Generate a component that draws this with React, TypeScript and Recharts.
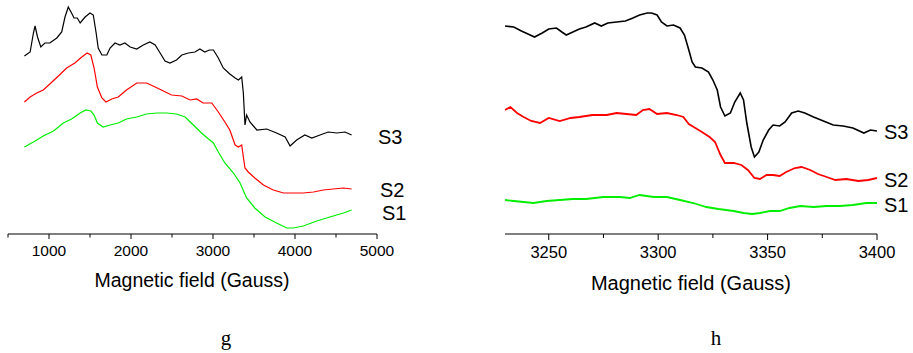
import React from "react";
import { LineChart, Line, XAxis, YAxis } from "recharts";

// EPR spectra, intensities in arbitrary units
// panel g: wide scan
const gS3: [number, number][] = [
  [700, 178], [770, 182], [810, 201], [830, 208], [860, 197], [900, 187], [950, 191],
  [1010, 191], [1095, 196], [1155, 202], [1195, 217], [1235, 227], [1275, 221],
  [1305, 216], [1345, 216], [1380, 211], [1440, 217], [1500, 221], [1540, 219],
  [1575, 201], [1600, 186], [1645, 179], [1705, 179], [1745, 186], [1805, 191],
  [1865, 189], [1925, 191], [1990, 187], [2070, 185], [2150, 189], [2230, 192],
  [2295, 189], [2355, 181], [2415, 173], [2475, 171], [2555, 174], [2620, 179],
  [2700, 181], [2780, 182], [2840, 185], [2900, 182], [2955, 184], [3005, 184],
  [3065, 176], [3125, 166], [3205, 160], [3270, 156], [3310, 154], [3350, 157],
  [3370, 141], [3390, 109], [3410, 119], [3450, 112], [3535, 104], [3655, 105],
  [3775, 101], [3880, 97], [3940, 88], [4020, 94], [4120, 99], [4205, 96],
  [4305, 99], [4405, 102], [4510, 101], [4610, 102], [4690, 99],
];

const gS2: [number, number][] = [
  [700, 132], [770, 137], [850, 141], [930, 144], [1010, 150], [1115, 158],
  [1215, 166], [1315, 171], [1400, 177], [1465, 181], [1510, 179], [1550, 166],
  [1590, 147], [1645, 136], [1695, 132], [1765, 135], [1845, 137], [1945, 144],
  [2070, 151], [2190, 151], [2295, 147], [2395, 143], [2495, 139], [2620, 138],
  [2720, 134], [2800, 135], [2880, 131], [2985, 131], [3065, 122], [3145, 112],
  [3205, 104], [3270, 89], [3310, 87], [3350, 89], [3370, 77], [3390, 66],
  [3430, 62], [3510, 56], [3615, 49], [3735, 44], [3860, 41], [3980, 41],
  [4100, 41], [4225, 42], [4345, 44], [4465, 45], [4590, 46], [4690, 45],
];

const gS1: [number, number][] = [
  [700, 87], [810, 92], [930, 98], [1055, 103], [1175, 111], [1275, 115],
  [1380, 121], [1450, 124], [1510, 123], [1550, 119], [1590, 111], [1660, 107],
  [1745, 109], [1845, 111], [1945, 115], [2070, 117], [2190, 120], [2315, 121],
  [2435, 121], [2555, 120], [2660, 117], [2760, 109], [2860, 101], [2945, 95],
  [3005, 91], [3065, 82], [3145, 71], [3250, 61], [3330, 51], [3410, 36],
  [3510, 26], [3635, 17], [3775, 11], [3900, 6], [3980, 6], [4100, 8],
  [4265, 13], [4425, 17], [4590, 21], [4690, 24],
];

// panel h: narrow scan around g = 2
const hS3: [number, number][] = [
  [3230, 208], [3234, 207], [3237.5, 203], [3240.5, 200], [3243.5, 197], [3247, 201],
  [3250, 205], [3253.5, 206], [3256, 202], [3258, 199], [3261, 202], [3264, 205],
  [3267, 207], [3271, 211], [3274, 208], [3277, 211], [3281, 212], [3285, 213],
  [3288.5, 216], [3291.5, 219], [3295, 221], [3297, 221], [3299.5, 219], [3301.5, 212],
  [3304, 208], [3307, 209], [3310, 206], [3312, 199], [3314, 184], [3315.5, 172],
  [3317, 167], [3320, 166], [3323, 162], [3325, 154], [3327, 144], [3328.5, 127],
  [3330.5, 118], [3333, 121], [3335, 132], [3337.5, 141], [3339, 134], [3340.5, 111],
  [3342.5, 87], [3344, 77], [3346, 82], [3348, 94], [3350.5, 104], [3352.5, 109],
  [3355.5, 108], [3358, 112], [3361, 121], [3364, 123], [3367, 121], [3371, 117],
  [3375.5, 113], [3380, 109], [3384.5, 108], [3389, 106], [3394, 101], [3397, 104],
  [3400, 103],
];

const hS2: [number, number][] = [
  [3230, 124], [3232.5, 127], [3235.5, 121], [3238.5, 117], [3242, 113], [3246, 111],
  [3250, 116], [3255, 113], [3260, 116], [3264, 117], [3270, 119], [3276.5, 119],
  [3281, 121], [3285.5, 120], [3290, 119], [3293, 124], [3296, 125], [3299.5, 120],
  [3304, 121], [3308.5, 119], [3311.5, 117], [3314, 110], [3317, 106], [3320, 102],
  [3323.5, 97], [3326, 92], [3328.5, 79], [3330.5, 71], [3334.5, 71], [3338, 69],
  [3341, 64], [3344, 56], [3346.5, 55], [3349.5, 59], [3352.5, 59], [3355.5, 58],
  [3358.5, 62], [3362.5, 66], [3365.5, 67], [3369.5, 64], [3373, 60], [3377, 57],
  [3381, 54], [3386, 55], [3391.5, 53], [3396, 54], [3400, 56],
];

const hS1: [number, number][] = [
  [3230, 34], [3234, 33], [3238.5, 32], [3243, 31], [3249, 33], [3255, 34],
  [3261, 35], [3267, 35], [3275, 37], [3282.5, 37], [3287, 36], [3291.5, 39],
  [3298, 37], [3304, 37], [3310, 34], [3316, 31], [3322, 27], [3327.5, 25],
  [3334.5, 23], [3339, 21], [3343, 20], [3346.5, 21], [3351, 23], [3355.5, 23],
  [3360, 26], [3365, 28], [3371, 27], [3377, 28], [3383, 28], [3389, 29],
  [3395, 31], [3400, 31],
];

const gTicks = [500, 1000, 1500, 2000, 2500, 3000, 3500, 4000, 4500, 5000];
const gMajor = [1000, 2000, 3000, 4000, 5000];
const hTicks = [3250, 3275, 3300, 3325, 3350, 3375, 3400];
const hMajor = [3250, 3300, 3350, 3400];

const FONT = "'Liberation Sans', Arial, sans-serif";

const toRows = (pts: [number, number][]) => pts.map(([x, y]) => ({ x, y }));

function makeTick(majors: number[], fontSize: number, labelDy: number, majorLen: number, minorLen: number) {
  return (props: any) => {
    const { x, y, payload } = props;
    const major = majors.includes(payload.value);
    return (
      <g>
        <line x1={x} x2={x} y1={y} y2={y + (major ? majorLen : minorLen)} stroke="#000" strokeWidth={1} />
        {major && (
          <text x={x} y={y + labelDy} textAnchor="middle" fontSize={fontSize} fill="#000" fontFamily={FONT}>
            {payload.value}
          </text>
        )}
      </g>
    );
  };
}

export default function App() {
  return (
    <div style={{ position: "absolute", left: 0, top: 0, width: 913, height: 353, background: "#fff" }}>
      <div style={{ position: "absolute", left: 0, top: 0 }}>
        <LineChart width={400} height={300} margin={{ top: 0, right: 23, bottom: 0, left: 8 }}>
          <XAxis
            type="number"
            dataKey="x"
            domain={[500, 5000]}
            ticks={gTicks}
            interval={0}
            allowDataOverflow
            height={66}
            tickSize={0}
            tickMargin={0}
            tickLine={false}
            axisLine={{ stroke: "#000" }}
            tick={makeTick(gMajor, 15.5, 21.5, 5, 3.5)}
          />
          <YAxis type="number" dataKey="y" domain={[0, 234]} hide allowDataOverflow />
          <Line data={toRows(gS3)} dataKey="y" type="linear" stroke="#000000" strokeWidth={1.2} dot={false} isAnimationActive={false} />
          <Line data={toRows(gS2)} dataKey="y" type="linear" stroke="#ff0000" strokeWidth={1.2} dot={false} isAnimationActive={false} />
          <Line data={toRows(gS1)} dataKey="y" type="linear" stroke="#00ee00" strokeWidth={1.2} dot={false} isAnimationActive={false} />
        </LineChart>
      </div>
      <div style={{ position: "absolute", left: 480, top: 0 }}>
        <LineChart width={433} height={300} margin={{ top: 0, right: 36, bottom: 0, left: 25 }}>
          <XAxis
            type="number"
            dataKey="x"
            domain={[3230, 3400]}
            ticks={hTicks}
            interval={0}
            allowDataOverflow
            height={66}
            tickSize={0}
            tickMargin={0}
            tickLine={false}
            axisLine={{ stroke: "#000" }}
            tick={makeTick(hMajor, 16.5, 24, 6, 4)}
          />
          <YAxis type="number" dataKey="y" domain={[0, 234]} hide allowDataOverflow />
          <Line data={toRows(hS3)} dataKey="y" type="linear" stroke="#000000" strokeWidth={1.6} dot={false} isAnimationActive={false} />
          <Line data={toRows(hS2)} dataKey="y" type="linear" stroke="#ff0000" strokeWidth={1.8} dot={false} isAnimationActive={false} />
          <Line data={toRows(hS1)} dataKey="y" type="linear" stroke="#00ee00" strokeWidth={1.8} dot={false} isAnimationActive={false} />
        </LineChart>
      </div>
      <svg width={913} height={353} style={{ position: "absolute", left: 0, top: 0, pointerEvents: "none" }}>
        <g fontFamily={FONT} fill="#000">
          <text x={192} y={287} fontSize={19.5} textAnchor="middle">Magnetic field (Gauss)</text>
          <text x={691} y={290} fontSize={20} textAnchor="middle">Magnetic field (Gauss)</text>
          <text x={378} y={144} fontSize={20}>S3</text>
          <text x={380} y={197} fontSize={20}>S2</text>
          <text x={382} y={220} fontSize={20}>S1</text>
          <text x={884} y={139} fontSize={20}>S3</text>
          <text x={884} y={187} fontSize={20}>S2</text>
          <text x={884} y={212} fontSize={20}>S1</text>
        </g>
        <g fontFamily="'Liberation Serif', 'Times New Roman', serif" fill="#000" fontSize={21}>
          <text x={226} y={345} textAnchor="middle">g</text>
          <text x={716} y={345} textAnchor="middle">h</text>
        </g>
      </svg>
    </div>
  );
}
